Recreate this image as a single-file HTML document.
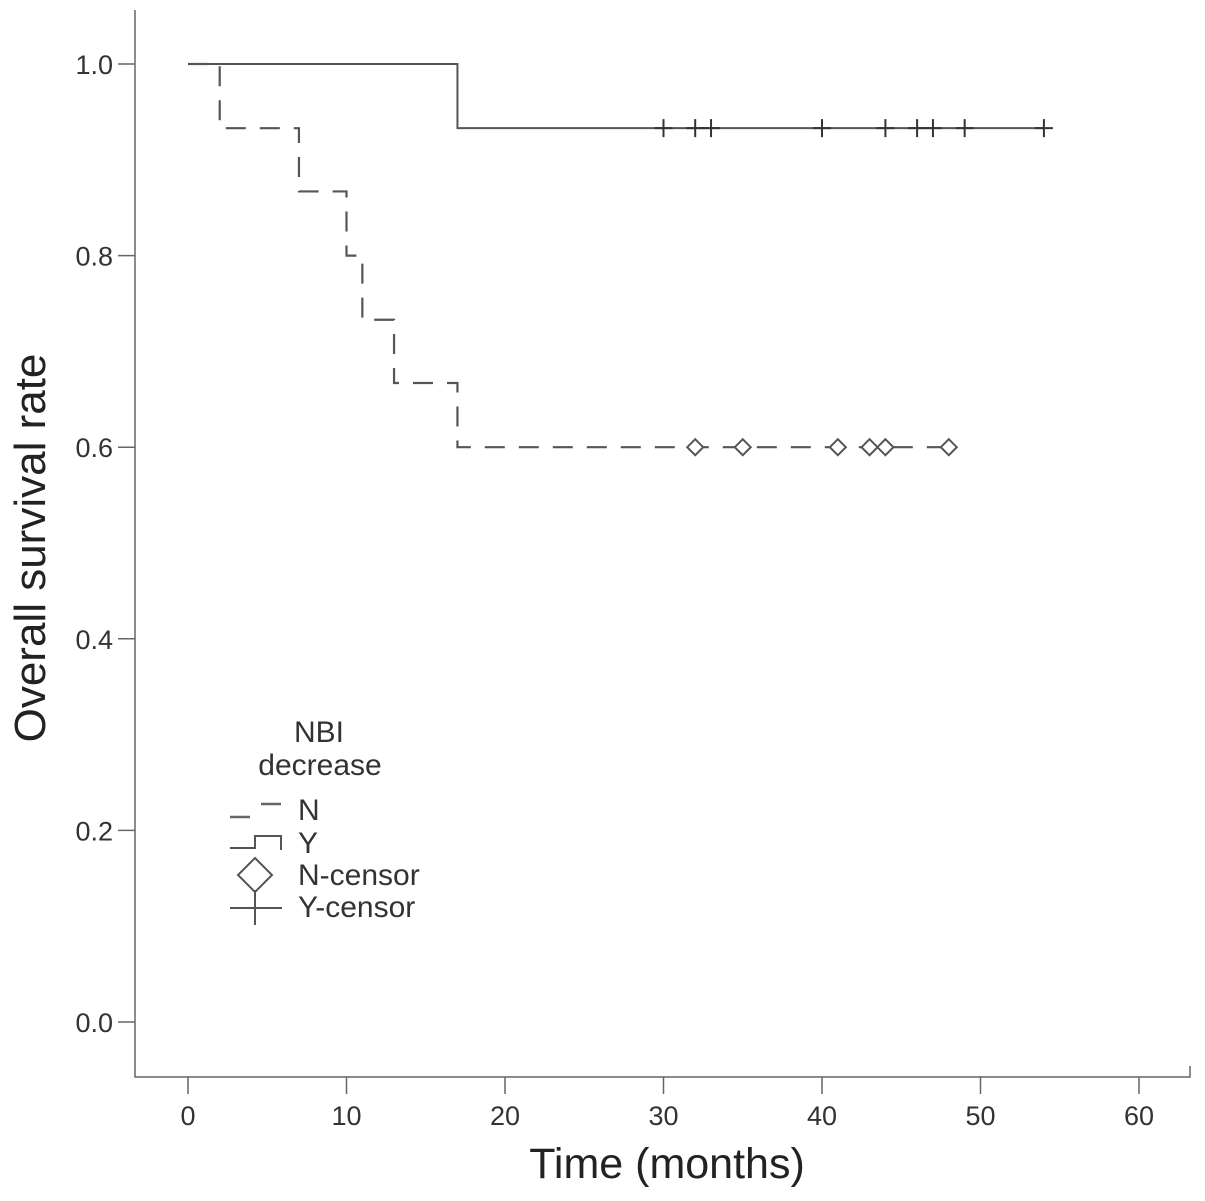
<!DOCTYPE html>
<html><head><meta charset="utf-8"><style>
body{margin:0;background:#fff}
svg{display:block;font-family:"Liberation Sans",sans-serif}
</style></head><body>
<svg id="chart" width="1205" height="1201" viewBox="0 0 1205 1201">
<g id="axes"></g>
<g id="series"></g>
<g id="legend" fill="#333" font-size="30">
<text x="319" y="742" text-anchor="middle">NBI</text>
<text x="320" y="775" text-anchor="middle">decrease</text>
<g>
<path d="M230,817 H250 M261,804 H281" stroke="#666" stroke-width="2.5"/>
<text x="298" y="820">N</text></g>
<g>
<path d="M230,848 H255 V836 H281 V850" stroke="#555" stroke-width="2" fill="none"/>
<text x="298" y="853">Y</text></g>
<g>
<path d="M255,858 L272,875 L255,892 L238,875 Z M255,892 V900" stroke="#555" stroke-width="2" fill="none"/>
<text x="298" y="885">N-censor</text></g>
<g>
<path d="M230,908 H282 M255,890 V925" stroke="#555" stroke-width="2"/>
<text x="298" y="917">Y-censor</text></g>
</g>
</svg>
<script>
const xTicks=[0,10,20,30,40,50,60];
const yTicks=[0.0,0.2,0.4,0.6,0.8,1.0];
const nTimes=[0,2,7,10,11,13,17,48];
const nSurv=[1.0,0.933,0.867,0.8,0.733,0.667,0.6,0.6];
const yTimes=[0,17,54];
const ySurv=[1.0,0.933,0.933];
const nCensor=[32,35,41,43,44,48];
const yCensor=[30,32,33,40,44,46,47,49,54];
const nCensorSurv=0.6, yCensorSurv=0.933;
const NS='http://www.w3.org/2000/svg';
const X=t=>188+t*15.85;
const Y=s=>1022-s*958;
function mk(tag,attrs,parent){const e=document.createElementNS(NS,tag);for(const k in attrs)e.setAttribute(k,attrs[k]);parent.appendChild(e);return e;}
const ax=document.getElementById('axes'), se=document.getElementById('series');
let a=mk('path',{d:'M135,10 V1077 H1190 V1066',stroke:'#666','stroke-width':1.5,fill:'none'},ax);


xTicks.forEach(t=>{
 let l=mk('line',{x1:X(t),x2:X(t),y1:1077,y2:1094,stroke:'#666','stroke-width':1.5},ax);
 
 
 let tx=mk('text',{x:X(t),y:1125,'text-anchor':'middle','font-size':27,fill:'#333'},ax);
 tx.textContent=t;
 
 
});
yTicks.forEach(v=>{
 let l=mk('line',{x1:118,x2:135,y1:Y(v),y2:Y(v),stroke:'#666','stroke-width':1.5},ax);
 
 
 let tx=mk('text',{x:113,y:Y(v)+10,'text-anchor':'end','font-size':27,fill:'#333'},ax);
 tx.textContent=v.toFixed(1);
 
 
});
let xt=mk('text',{x:667,y:1178,'text-anchor':'middle','font-size':43,fill:'#222'},ax);
xt.textContent='Time (months)';


let yt=mk('text',{x:0,y:0,'text-anchor':'middle','font-size':44,fill:'#222',transform:'translate(45,548) rotate(-90)'},ax);
yt.textContent='Overall survival rate';


function stepPath(ts,ss){let d='M'+X(ts[0])+','+Y(ss[0]);for(let i=1;i<ts.length;i++){d+=' H'+X(ts[i])+' V'+Y(ss[i]);}return d;}
let pn=mk('path',{d:stepPath(nTimes,nSurv),stroke:'#555','stroke-width':2.2,fill:'none','stroke-dasharray':'20,14'},se);


let py=mk('path',{d:stepPath(yTimes,ySurv),stroke:'#555','stroke-width':2,fill:'none'},se);


nCensor.forEach(t=>{
 const cx=X(t),cy=Y(nCensorSurv);
 let p=mk('path',{d:`M${cx},${cy-8} L${cx+8},${cy} L${cx},${cy+8} L${cx-8},${cy} Z`,stroke:'#555','stroke-width':2,fill:'#fff'},se);
 
 
});
yCensor.forEach(t=>{
 const cx=X(t),cy=Y(yCensorSurv);
 let p=mk('path',{d:`M${cx-9},${cy} H${cx+9} M${cx},${cy-9} V${cy+9}`,stroke:'#333','stroke-width':2},se);
 
 
});
</script>
</body></html>
